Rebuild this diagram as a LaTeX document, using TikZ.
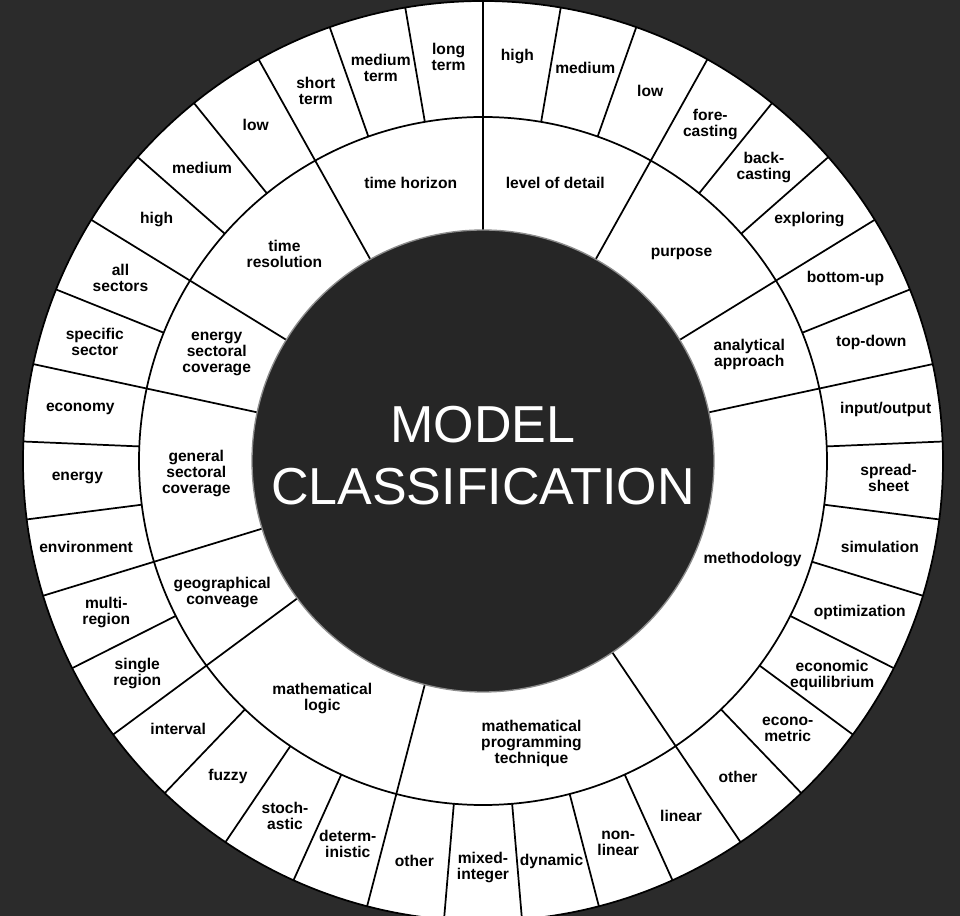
\documentclass[tikz,border=0pt]{standalone}
\usepackage{fontspec}
\setmainfont{Liberation Sans}
\definecolor{bg}{HTML}{2B2B2B}
\definecolor{core}{HTML}{262626}

\begin{document}
\begin{tikzpicture}[x=0.75pt, y=0.75pt,
    leaf/.style={font=\fontsize{11.7}{12}\selectfont\bfseries, align=center, inner sep=0pt},
    branch/.style={font=\fontsize{11.7}{12}\selectfont\bfseries, align=center, inner sep=0pt},
    rim/.style={line width=1.3pt}]
        \useasboundingbox (-483, -455) rectangle (477, 461);
        \fill[bg] (-483, -455) rectangle (477, 461);

        % rings
        \filldraw[fill=white, rim] (0, 0) circle (460);
        \draw[rim] (0, 0) circle (344);

        % outer spokes
        \draw[rim] (90:344) -- (90:460);
        \draw[rim] (80.27:344) -- (80.27:460);
        \draw[rim] (70.54:344) -- (70.54:460);
        \draw[rim] (60.81:344) -- (60.81:460);
        \draw[rim] (51.08:344) -- (51.08:460);
        \draw[rim] (41.35:344) -- (41.35:460);
        \draw[rim] (31.62:344) -- (31.62:460);
        \draw[rim] (21.89:344) -- (21.89:460);
        \draw[rim] (12.16:344) -- (12.16:460);
        \draw[rim] (2.43:344) -- (2.43:460);
        \draw[rim] (-7.30:344) -- (-7.30:460);
        \draw[rim] (-17.03:344) -- (-17.03:460);
        \draw[rim] (-26.76:344) -- (-26.76:460);
        \draw[rim] (-36.49:344) -- (-36.49:460);
        \draw[rim] (-46.22:344) -- (-46.22:460);
        \draw[rim] (-55.95:344) -- (-55.95:460);
        \draw[rim] (-65.68:344) -- (-65.68:460);
        \draw[rim] (-75.41:344) -- (-75.41:460);
        \draw[rim] (-85.14:344) -- (-85.14:460);
        \draw[rim] (-94.86:344) -- (-94.86:460);
        \draw[rim] (-104.59:344) -- (-104.59:460);
        \draw[rim] (-114.32:344) -- (-114.32:460);
        \draw[rim] (-124.05:344) -- (-124.05:460);
        \draw[rim] (-133.78:344) -- (-133.78:460);
        \draw[rim] (-143.51:344) -- (-143.51:460);
        \draw[rim] (-153.24:344) -- (-153.24:460);
        \draw[rim] (-162.97:344) -- (-162.97:460);
        \draw[rim] (-172.70:344) -- (-172.70:460);
        \draw[rim] (-182.43:344) -- (-182.43:460);
        \draw[rim] (-192.16:344) -- (-192.16:460);
        \draw[rim] (-201.89:344) -- (-201.89:460);
        \draw[rim] (-211.62:344) -- (-211.62:460);
        \draw[rim] (-221.35:344) -- (-221.35:460);
        \draw[rim] (-231.08:344) -- (-231.08:460);
        \draw[rim] (-240.81:344) -- (-240.81:460);
        \draw[rim] (-250.54:344) -- (-250.54:460);
        \draw[rim] (-260.27:344) -- (-260.27:460);

        % inner spokes
        \draw[rim] (90:231) -- (90:344);
        \draw[rim] (60.81:231) -- (60.81:344);
        \draw[rim] (31.62:231) -- (31.62:344);
        \draw[rim] (12.16:231) -- (12.16:344);
        \draw[rim] (-55.95:231) -- (-55.95:344);
        \draw[rim] (-104.59:231) -- (-104.59:344);
        \draw[rim] (-143.51:231) -- (-143.51:344);
        \draw[rim] (-162.97:231) -- (-162.97:344);
        \draw[rim] (-192.16:231) -- (-192.16:344);
        \draw[rim] (-211.62:231) -- (-211.62:344);
        \draw[rim] (-240.81:231) -- (-240.81:344);

        % core
        \filldraw[fill=core, draw=black!45, line width=1pt] (0, 0) circle (231);
        \node[text=white, font=\fontsize{39}{46.5}\selectfont, align=center] (title) at (0, 5) {MODEL\\CLASSIFICATION};

        % inner labels
        \node[branch] (detail) at (75.41:287) {level of detail};
        \node[branch] (purpose) at (46.22:287) {purpose};
        \node[branch] (approach) at (21.89:287) {analytical\\approach};
        \node[branch] (method) at (-20:287) {methodology};
        \node[branch] (mathprog) at (-80.27:287) {mathematical\\programming\\technique};
        \node[branch] (mathlogic) at (-124.05:287) {mathematical\\logic};
        \node[branch] (geo) at (-153.24:292) {geographical\\conveage};
        \node[branch] (general) at (-177.57:287) {general\\sectoral\\coverage};
        \node[branch] (energysec) at (-201.89:287) {energy\\sectoral\\coverage};
        \node[branch] (timeres) at (-226.22:287) {time\\resolution};
        \node[branch] (horizon) at (-255.41:287) {time horizon};

        % outer labels
        \node[leaf] (detailhi) at (85.14:406) {high};
        \node[leaf] (detailmed) at (75.41:406) {medium};
        \node[leaf] (detaillo) at (65.68:406) {low};
        \node[leaf] (fore) at (55.95:406) {fore-\\casting};
        \node[leaf] (back) at (46.22:406) {back-\\casting};
        \node[leaf] (explore) at (36.49:406) {exploring};
        \node[leaf] (bottomup) at (26.76:406) {bottom-up};
        \node[leaf] (topdown) at (17.03:406) {top-down};
        \node[leaf] (io) at (7.30:406) {input/output};
        \node[leaf] (spread) at (-2.43:406) {spread-\\sheet};
        \node[leaf] (sim) at (-12.16:406) {simulation};
        \node[leaf] (optim) at (-21.89:406) {optimization};
        \node[leaf] (equil) at (-31.62:410) {economic\\equilibrium};
        \node[leaf] (econo) at (-41.35:406) {econo-\\metric};
        \node[leaf] (methother) at (-51.08:406) {other};
        \node[leaf] (linear) at (-60.81:406) {linear};
        \node[leaf] (nonlin) at (-70.54:406) {non-\\linear};
        \node[leaf] (dynamic) at (-80.27:406) {dynamic};
        \node[leaf] (mixed) at (-90:406) {mixed-\\integer};
        \node[leaf] (progother) at (-99.73:406) {other};
        \node[leaf] (determ) at (-109.46:406) {determ-\\inistic};
        \node[leaf] (stoch) at (-119.19:406) {stoch-\\astic};
        \node[leaf] (fuzzy) at (-128.92:406) {fuzzy};
        \node[leaf] (interval) at (-138.65:406) {interval};
        \node[leaf] (single) at (-148.38:406) {single\\region};
        \node[leaf] (multi) at (-158.11:406) {multi-\\region};
        \node[leaf] (environ) at (-167.84:406) {environment};
        \node[leaf] (energy) at (-177.57:406) {energy};
        \node[leaf] (economy) at (-187.30:406) {economy};
        \node[leaf] (specific) at (-197.03:406) {specific\\sector};
        \node[leaf] (allsec) at (-206.76:406) {all\\sectors};
        \node[leaf] (reshi) at (-216.49:406) {high};
        \node[leaf] (resmed) at (-226.22:406) {medium};
        \node[leaf] (reslo) at (-235.95:406) {low};
        \node[leaf] (short) at (-245.68:406) {short\\term};
        \node[leaf] (medterm) at (-255.41:406) {medium\\term};
        \node[leaf] (long) at (-265.14:406) {long\\term};
\end{tikzpicture}
\end{document}
